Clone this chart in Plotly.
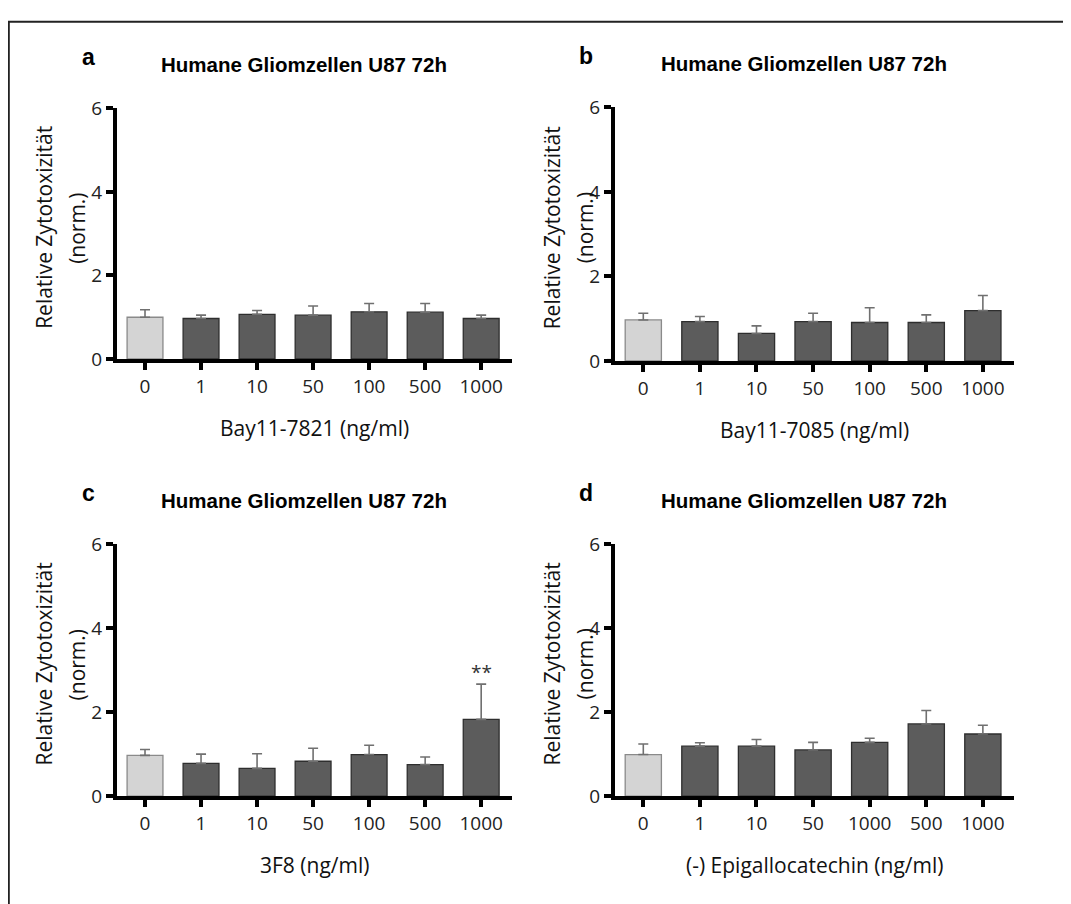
import plotly.graph_objects as go

# ---------------- data ----------------
labels_abc = ["0", "1", "10", "50", "100", "500", "1000"]
labels_d = ["0", "1", "10", "50", "1000", "500", "1000"]

vals_a = [1.00, 0.97, 1.07, 1.05, 1.13, 1.12, 0.97]
err_a = [0.18, 0.08, 0.09, 0.22, 0.20, 0.21, 0.08]

vals_b = [0.97, 0.93, 0.65, 0.93, 0.91, 0.91, 1.19]
err_b = [0.16, 0.12, 0.18, 0.20, 0.35, 0.18, 0.36]

vals_c = [0.97, 0.78, 0.66, 0.83, 0.99, 0.75, 1.83]
err_c = [0.14, 0.22, 0.35, 0.31, 0.22, 0.18, 0.84]

vals_d = [0.99, 1.19, 1.19, 1.10, 1.28, 1.72, 1.48]
err_d = [0.25, 0.08, 0.16, 0.18, 0.10, 0.32, 0.21]

x_titles = ["Bay11-7821 (ng/ml)", "Bay11-7085 (ng/ml)", "3F8 (ng/ml)", "(-) Epigallocatechin (ng/ml)"]
panel_letters = ["a", "b", "c", "d"]
panel_title = "Humane Gliomzellen U87 72h"
y_title_lines = ["Relative Zytotoxizität", "(norm.)"]
y_ticks = [0, 2, 4, 6]

# significance mark: (panel index, bar index, y position, text)
sig_marks = [(2, 6, 2.96, "**")]

panels = [
    (labels_abc, vals_a, err_a),
    (labels_abc, vals_b, err_b),
    (labels_abc, vals_c, err_c),
    (labels_d, vals_d, err_d),
]

# ---------------- layout geometry (page pixels) ----------------
W, H = 1071, 904
OFF = 8  # default page body margin that shifts the plot div
px_x = [(117, 512), (615, 1014), (117, 512), (615, 1014)]
px_y = [(98, 356), (97, 358), (547, 806), (547, 806)]
ytitle_off = [(-73, -40), (-63, -30), (-73, -40), (-63, -30)]


def fx(p):
    return (p - OFF) / W


def fy(p):
    return 1 - (p - OFF) / H


TICK_FONT = dict(family="Open Sans", size=19, color="#222222")
LABEL_FONT = dict(family="Open Sans", size=21, color="#111111")
TITLE_FONT = dict(family="Liberation Sans", size=20.5, color="#000000")
LETTER_FONT = dict(family="Liberation Sans", size=23, color="#000000")

DARK = "#5c5c5c"
DARK_EDGE = "#2e2e2e"
LIGHT = "#d4d4d4"
LIGHT_EDGE = "#8a8a8a"
ERR_COL = "#707070"

fig = go.Figure()
annotations = []
shapes = []

for i, (labels, vals, errs) in enumerate(panels):
    n = len(vals)
    xs = list(range(n))
    sfx = "" if i == 0 else str(i + 1)
    xa, ya = "x" + sfx, "y" + sfx

    # control bar
    fig.add_trace(go.Bar(
        x=xs[:1], y=vals[:1], width=0.64,
        marker=dict(color=LIGHT, line=dict(color=LIGHT_EDGE, width=1.3)),
        error_y=dict(type="data", symmetric=False, array=errs[:1], arrayminus=[0],
                     color=ERR_COL, thickness=1.6, width=5),
        xaxis=xa, yaxis=ya, showlegend=False, hoverinfo="skip"))
    # treatment bars
    fig.add_trace(go.Bar(
        x=xs[1:], y=vals[1:], width=0.64,
        marker=dict(color=DARK, line=dict(color=DARK_EDGE, width=1.3)),
        error_y=dict(type="data", symmetric=False, array=errs[1:], arrayminus=[0] * (n - 1),
                     color=ERR_COL, thickness=1.6, width=5),
        xaxis=xa, yaxis=ya, showlegend=False, hoverinfo="skip"))

    x0p, x1p = px_x[i]
    y0p, y1p = px_y[i]
    xdom = [fx(x0p), fx(x1p)]
    ydom = [fy(y1p), fy(y0p)]

    fig.update_layout(**{
        "xaxis" + sfx: dict(
            domain=xdom, anchor=ya, range=[-0.5, 6.55],
            tickmode="array", tickvals=xs, ticktext=labels,
            showline=True, linecolor="#000000", linewidth=4,
            ticks="outside", ticklen=7, tickwidth=3.5, tickcolor="#000000",
            showgrid=False, zeroline=False, tickfont=TICK_FONT, fixedrange=True),
        "yaxis" + sfx: dict(
            domain=ydom, anchor=xa, range=[0, 6],
            tickmode="array", tickvals=y_ticks,
            showline=True, linecolor="#000000", linewidth=4,
            ticks="outside", ticklen=7, tickwidth=3.5, tickcolor="#000000",
            showgrid=False, zeroline=False, tickfont=TICK_FONT, fixedrange=True),
    })

    # x axis overshoot to the left of the y axis (GraphPad style)
    shapes.append(dict(type="line", xref=xa + " domain", yref=ya,
                       x0=-0.02, x1=0, y0=0, y1=0,
                       line=dict(color="#000000", width=4)))

    cx = (x0p + x1p) / 2
    cy = (y0p + y1p) / 2
    # panel title
    annotations.append(dict(text="<b>" + panel_title + "</b>", xref="paper", yref="paper",
                            x=fx(cx - 11), y=fy(y0p - 45),
                            showarrow=False, font=TITLE_FONT,
                            xanchor="center", yanchor="middle"))
    # panel letter
    annotations.append(dict(text="<b>" + panel_letters[i] + "</b>", xref="paper", yref="paper",
                            x=fx(x0p - 29), y=fy(y0p - 53),
                            showarrow=False, font=LETTER_FONT,
                            xanchor="center", yanchor="middle"))
    # x axis title
    annotations.append(dict(text=x_titles[i], xref="paper", yref="paper",
                            x=fx(cx), y=fy(y1p + 71),
                            showarrow=False, font=LABEL_FONT,
                            xanchor="center", yanchor="middle"))
    # y axis title (two lines)
    for line_txt, off in zip(y_title_lines, ytitle_off[i]):
        annotations.append(dict(text=line_txt, xref="paper", yref="paper",
                                x=fx(x0p + off), y=fy(cy - 6),
                                textangle=-90, showarrow=False, font=LABEL_FONT,
                                xanchor="center", yanchor="middle"))

for (pi, bi, yv, txt) in sig_marks:
    sfx = "" if pi == 0 else str(pi + 1)
    annotations.append(dict(text=txt, xref="x" + sfx, yref="y" + sfx, x=bi, y=yv,
                            showarrow=False, font=dict(family="Open Sans", size=19, color="#333333"),
                            xanchor="center", yanchor="middle"))

# outer frame (left and top edges visible)
shapes.append(dict(type="rect", xref="paper", yref="paper",
                   x0=0.8 / W, x1=1.05, y0=-0.05, y1=1 - 0.8 / H,
                   line=dict(color="#222222", width=2), layer="below"))

fig.update_layout(
    width=W, height=H,
    margin=dict(l=0, r=0, t=0, b=0),
    paper_bgcolor="#ffffff", plot_bgcolor="#ffffff",
    barmode="overlay",
    annotations=annotations, shapes=shapes,
    showlegend=False,
)

fig.write_html("out.html")
